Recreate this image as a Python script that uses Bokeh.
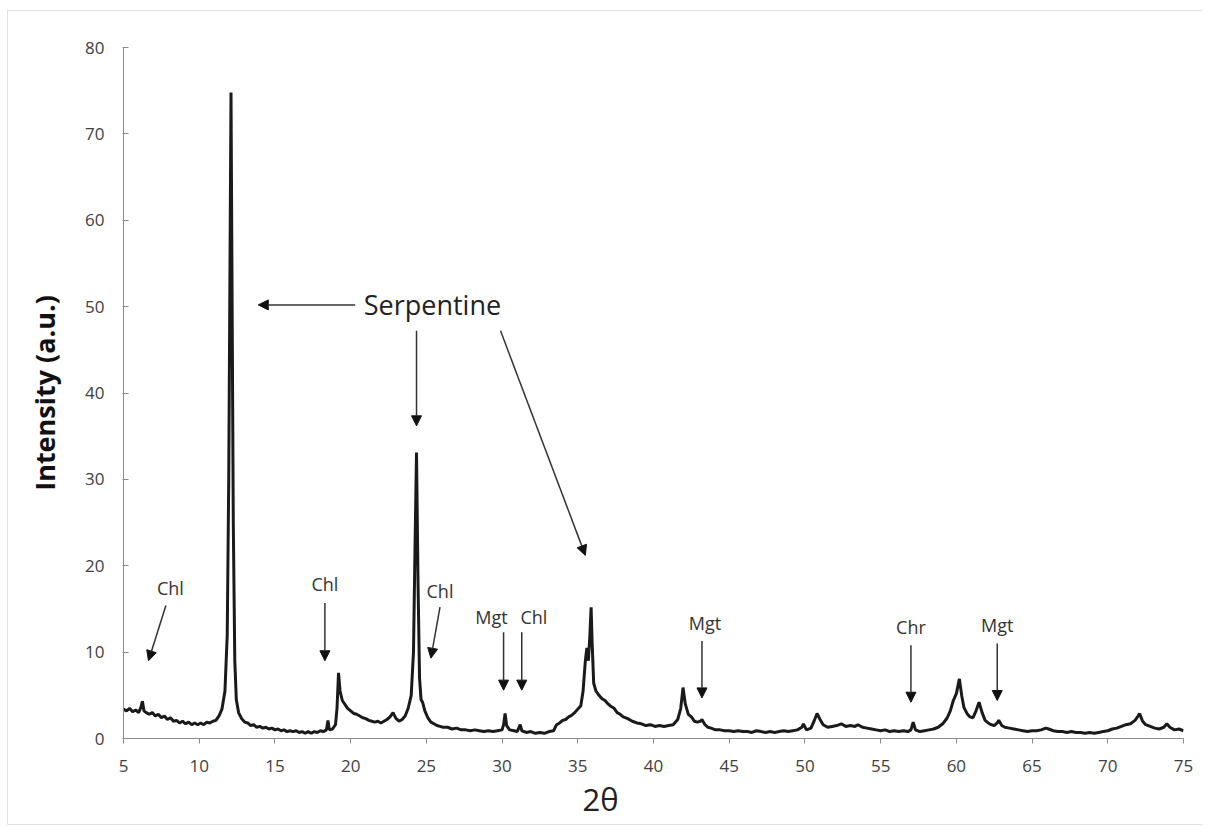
from bokeh.plotting import figure
from bokeh.models import Arrow, NormalHead, FixedTicker, Range1d, ColumnDataSource, Title
from bokeh.core.properties import value
from bokeh.embed import file_html
from bokeh.resources import INLINE

# ---- data ----
two_theta = [5.0, 5.2, 5.4, 5.6, 5.8, 6.0, 6.15, 6.25, 6.35, 6.5, 6.7, 6.9, 7.1, 7.3, 7.5, 7.7, 7.9, 8.1, 8.3, 8.5,
             8.7, 8.9, 9.1, 9.3, 9.5, 9.7, 9.9, 10.1, 10.3, 10.5, 10.7, 10.9, 11.1, 11.3, 11.5, 11.7, 11.85, 11.95,
             12.05, 12.1, 12.15, 12.25, 12.35, 12.45, 12.6, 12.8, 13.0, 13.2, 13.4, 13.6, 13.8, 14.0, 14.2, 14.4,
             14.6, 14.8, 15.0, 15.2, 15.4, 15.6, 15.8, 16.0, 16.2, 16.4, 16.6, 16.8, 17.0, 17.2, 17.4, 17.6, 17.8,
             18.0, 18.2, 18.4, 18.5, 18.6, 18.8, 19.0, 19.1, 19.2, 19.3, 19.45, 19.6, 19.8, 20.0, 20.2, 20.4, 20.6,
             20.8, 21.0, 21.2, 21.4, 21.6, 21.8, 22.0, 22.2, 22.4, 22.6, 22.8, 23.0, 23.2, 23.4, 23.6, 23.8, 24.0,
             24.15, 24.25, 24.35, 24.45, 24.55, 24.65, 24.75, 24.9, 25.1, 25.3, 25.5, 25.7, 25.9, 26.1, 26.4, 26.7,
             27.0, 27.3, 27.6, 27.9, 28.2, 28.5, 28.8, 29.1, 29.4, 29.7, 30.0, 30.1, 30.2, 30.3, 30.5, 30.8, 31.0,
             31.2, 31.3, 31.6, 31.9, 32.2, 32.5, 32.8, 33.1, 33.4, 33.6, 33.8, 34.0, 34.2, 34.4, 34.6, 34.8, 35.0,
             35.2, 35.35, 35.5, 35.6, 35.7, 35.8, 35.88, 35.95, 36.05, 36.2, 36.4, 36.6, 36.8, 37.0, 37.2, 37.4,
             37.6, 37.8, 38.0, 38.3, 38.6, 38.9, 39.2, 39.5, 39.8, 40.1, 40.4, 40.7, 41.0, 41.3, 41.6, 41.8, 41.95,
             42.1, 42.3, 42.5, 42.7, 42.9, 43.1, 43.2, 43.4, 43.6, 43.8, 44.1, 44.4, 44.7, 45.0, 45.3, 45.6, 45.9,
             46.2, 46.5, 46.8, 47.1, 47.4, 47.7, 48.0, 48.3, 48.6, 48.9, 49.2, 49.5, 49.8, 49.9, 50.1, 50.4, 50.6,
             50.8, 51.0, 51.2, 51.5, 51.8, 52.1, 52.4, 52.7, 53.0, 53.3, 53.5, 53.8, 54.1, 54.4, 54.7, 55.0, 55.3,
             55.6, 55.9, 56.2, 56.5, 56.8, 57.0, 57.15, 57.3, 57.6, 57.9, 58.2, 58.5, 58.8, 59.1, 59.4, 59.6, 59.8,
             60.0, 60.2, 60.35, 60.5, 60.7, 60.9, 61.1, 61.3, 61.5, 61.7, 61.9, 62.1, 62.3, 62.5, 62.7, 62.8, 63.0,
             63.2, 63.5, 63.8, 64.1, 64.4, 64.7, 65.0, 65.3, 65.6, 65.9, 66.1, 66.4, 66.7, 67.0, 67.3, 67.6, 67.9,
             68.2, 68.5, 68.8, 69.1, 69.4, 69.7, 70.0, 70.3, 70.6, 70.9, 71.2, 71.5, 71.8, 72.0, 72.1, 72.3, 72.5,
             72.8, 73.1, 73.4, 73.7, 73.9, 74.1, 74.4, 74.7, 75.0]
intensity = [3.4, 3.2, 3.5, 3.1, 3.3, 3.0, 3.6, 4.3, 3.2, 3.0, 2.8, 3.0, 2.6, 2.8, 2.4, 2.6, 2.2, 2.4, 2.0, 2.1,
             1.8, 2.0, 1.7, 1.9, 1.6, 1.8, 1.6, 1.8, 1.6, 1.9, 1.8, 2.0, 2.1, 2.6, 3.4, 5.5, 12.0, 30.0,
             60.0, 74.8, 58.0, 25.0, 9.0, 4.5, 3.0, 2.3, 1.9, 1.8, 1.5, 1.6, 1.3, 1.4, 1.2, 1.3,
             1.1, 1.2, 1.0, 1.1, 0.9, 1.0, 0.8, 0.9, 0.8, 0.9, 0.7, 0.8, 0.6, 0.8, 0.6, 0.8, 0.7,
             0.9, 0.8, 1.0, 2.1, 1.0, 1.1, 1.6, 3.5, 7.6, 5.5, 4.4, 4.0, 3.5, 3.2, 2.9, 2.8, 2.6,
             2.4, 2.3, 2.1, 2.0, 1.9, 2.0, 1.8, 2.0, 2.2, 2.5, 3.0, 2.3, 2.0, 2.2, 2.6, 3.5, 5.0,
             10.0, 22.0, 33.1, 18.0, 7.0, 4.5, 4.2, 3.2, 2.4, 1.9, 1.7, 1.5, 1.4, 1.3, 1.3, 1.1,
             1.2, 1.0, 1.0, 0.9, 1.0, 0.9, 0.8, 0.9, 0.8, 0.9, 1.0, 1.6, 2.9, 1.5, 1.0, 0.9, 0.8,
             1.6, 0.9, 0.7, 0.8, 0.6, 0.7, 0.6, 0.8, 0.9, 1.6, 1.8, 2.1, 2.2, 2.5, 2.7, 3.0, 3.4,
             3.8, 5.5, 9.0, 10.5, 9.0, 12.0, 15.2, 11.0, 6.4, 5.5, 5.0, 4.6, 4.4, 4.0, 3.7, 3.5,
             3.0, 2.8, 2.5, 2.3, 2.0, 1.8, 1.7, 1.5, 1.6, 1.4, 1.5, 1.4, 1.5, 1.6, 2.2, 3.5, 5.9,
             4.0, 2.8, 2.5, 2.0, 1.9, 2.0, 2.2, 1.6, 1.3, 1.2, 1.0, 1.0, 0.9, 0.9, 0.8, 0.9, 0.8,
             0.8, 0.7, 0.9, 0.8, 0.7, 0.8, 0.7, 0.8, 0.9, 0.8, 0.9, 1.0, 1.3, 1.7, 1.0, 1.2, 2.0,
             2.9, 2.2, 1.6, 1.3, 1.4, 1.5, 1.7, 1.4, 1.5, 1.4, 1.6, 1.3, 1.2, 1.1, 1.0, 0.9, 1.0,
             0.8, 0.9, 0.8, 0.9, 0.8, 1.0, 1.9, 1.0, 0.8, 0.9, 1.0, 1.1, 1.3, 1.7, 2.4, 3.2, 4.4,
             5.2, 6.9, 5.0, 3.6, 2.9, 2.5, 2.4, 3.2, 4.2, 3.0, 2.1, 1.8, 1.6, 1.5, 1.8, 2.1, 1.5,
             1.3, 1.2, 1.1, 1.0, 0.9, 0.8, 0.9, 0.9, 1.0, 1.2, 1.1, 0.9, 0.8, 0.8, 0.7, 0.8, 0.7,
             0.7, 0.6, 0.7, 0.6, 0.7, 0.8, 0.9, 1.1, 1.2, 1.4, 1.6, 1.7, 2.1, 2.6, 2.9, 2.0, 1.6,
             1.4, 1.2, 1.1, 1.3, 1.7, 1.3, 1.0, 1.1, 0.9]

x_ticks = [5, 10, 15, 20, 25, 30, 35, 40, 45, 50, 55, 60, 65, 70, 75]
y_ticks = [0, 10, 20, 30, 40, 50, 60, 70, 80]

# phase labels and their arrows (data coordinates)
label_text = ["Chl", "Chl", "Chl", "Mgt", "Chl", "Mgt", "Chr", "Mgt"]
label_x = [8.1, 18.3, 25.9, 29.3, 32.1, 43.4, 57.0, 62.7]
label_y = [17.4, 17.9, 17.1, 14.1, 14.1, 13.4, 12.9, 13.1]
arrow_x0 = [7.8, 18.3, 25.9, 30.1, 31.3, 43.2, 57.0, 62.7]
arrow_y0 = [15.4, 15.7, 15.2, 12.3, 12.3, 11.3, 10.8, 11.0]
arrow_x1 = [6.65, 18.3, 25.3, 30.1, 31.3, 43.2, 57.0, 62.7]
arrow_y1 = [9.0, 9.0, 9.3, 5.6, 5.6, 4.7, 4.2, 4.4]

serp_text = "Serpentine"
serp_x, serp_y = 25.4, 50.2
serp_x0 = [20.3, 24.35, 29.9]
serp_y0 = [50.2, 47.2, 47.2]
serp_x1 = [13.9, 24.35, 35.5]
serp_y1 = [50.2, 36.2, 21.2]

x_title = "2θ"

FONT = "Open Sans"

p = figure(width=1195, height=815, output_backend="svg", toolbar_location=None,
           x_range=Range1d(5, 75), y_range=Range1d(0, 80),
           min_border_left=115, min_border_right=20, min_border_top=36, min_border_bottom=88)
p.styles = {"border-left": "1px solid #e2e2e2", "border-top": "1px solid #e2e2e2",
            "border-bottom": "1px solid #e2e2e2", "margin-left": "7px", "margin-top": "10px"}
p.outline_line_color = None
p.xgrid.visible = False
p.ygrid.visible = False
p.background_fill_color = "white"
p.border_fill_color = "white"

p.line(two_theta, intensity, line_color="#1a1a1a", line_width=3)

for ax in (p.xaxis[0], p.yaxis[0]):
    ax.axis_line_color = "#8c8c8c"
    ax.major_tick_line_color = "#8c8c8c"
    ax.minor_tick_line_color = None
    ax.major_label_text_font = FONT
    ax.major_label_text_font_size = "17px"
    ax.major_label_text_color = "#404040"
    ax.axis_label_text_font = FONT

p.xaxis.ticker = FixedTicker(ticks=x_ticks)
p.yaxis.ticker = FixedTicker(ticks=y_ticks)
p.xaxis.major_tick_out = 5
p.xaxis.major_tick_in = 0
p.yaxis.major_tick_out = 1
p.yaxis.major_tick_in = 5
p.xaxis.major_label_standoff = 16
p.yaxis.major_label_standoff = 18

p.yaxis.axis_label = "Intensity (a.u.)"
p.yaxis.axis_label_text_font_size = "27px"
p.yaxis.axis_label_text_font_style = "bold"
p.yaxis.axis_label_text_color = "#111111"
p.yaxis.axis_label_standoff = 19

p.add_layout(Title(text=x_title, align="left", offset=459, standoff=2,
                   text_font=FONT, text_font_size="31px", text_font_style="normal",
                   text_color="#222222"), "below")

# phase labels
src = ColumnDataSource(dict(x=label_x, y=label_y, t=label_text))
p.text(x="x", y="y", text="t", source=src, text_font=value(FONT), text_font_size="18px",
       text_color="#333333", text_align="center", text_baseline="middle")
for x0, y0, x1, y1 in zip(arrow_x0, arrow_y0, arrow_x1, arrow_y1):
    p.add_layout(Arrow(end=NormalHead(size=10, fill_color="#111111", line_color="#111111"),
                       x_start=x0, y_start=y0, x_end=x1, y_end=y1,
                       line_color="#333333", line_width=1.5))

p.text(x=[serp_x], y=[serp_y], text=[serp_text], text_font=value(FONT), text_font_size="27px",
       text_color="#222222", text_align="center", text_baseline="middle")
for x0, y0, x1, y1 in zip(serp_x0, serp_y0, serp_x1, serp_y1):
    p.add_layout(Arrow(end=NormalHead(size=10, fill_color="#111111", line_color="#111111"),
                       x_start=x0, y_start=y0, x_end=x1, y_end=y1,
                       line_color="#333333", line_width=1.5))

open("out.html", "w").write(file_html(p, INLINE))
